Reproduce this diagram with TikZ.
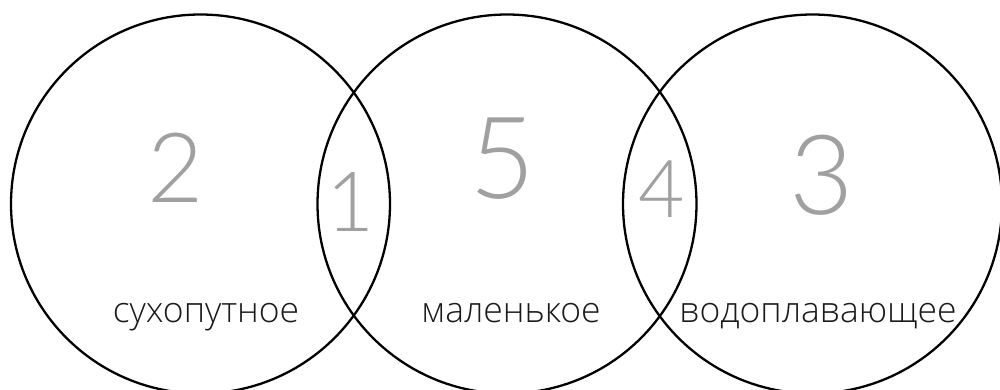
\documentclass[tikz,border=0pt]{standalone}
\usepackage{fontspec}
\setmainfont{Open Sans Light}
\newfontfamily\digitfont{Lato Light}
\definecolor{digitgray}{HTML}{A0A0A0}
\definecolor{labelink}{HTML}{1A1A1A}
\begin{document}
\begin{tikzpicture}[x=1pt,y=-1pt,
  setcircle/.style={draw=black,line width=2.3pt,circle,minimum size=379pt,inner sep=0pt},
  setlabel/.style={text=labelink,font=\fontsize{35.5}{35.5}\selectfont,anchor=base,inner sep=0pt},
  digit/.style={text=digitgray,inner sep=0pt,font=\digitfont\fontsize{#1}{#1}\selectfont}]
\useasboundingbox (0,0) rectangle (1000,389);
\node[setcircle] (c1) at (200.5,204) {};
\node[setcircle] (c2) at (507,204) {};
\node[setcircle] (c3) at (812.5,204) {};
\node[setlabel] (t1) at (206,322) {сухопутное};
\node[setlabel] (t2) at (511,322) {маленькое};
\node[setlabel] (t3) at (818,322) {водоплавающее};
\node[digit=97] (d2) at (176,168) {2};
\node[digit=83] (d1) at (351,202) {1};
\node[digit=114] (d5) at (503,159) {5};
\node[digit=80] (d4) at (662,189) {4};
\node[digit=111] (d3) at (822,175) {3};
\end{tikzpicture}
\end{document}
